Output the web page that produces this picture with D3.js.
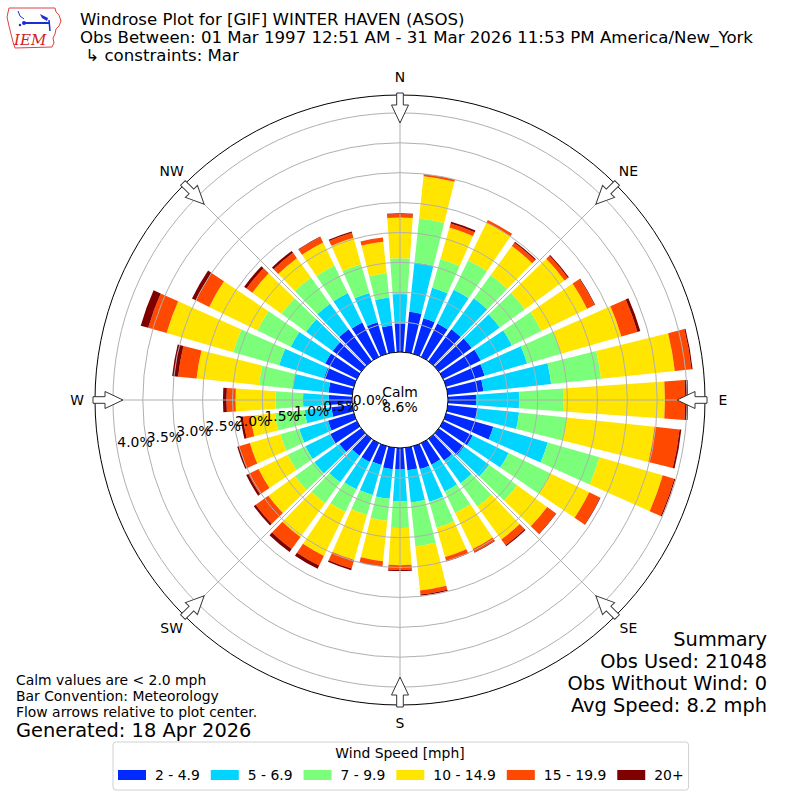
<!DOCTYPE html>
<html>
<head>
<meta charset="utf-8">
<script src="https://cdn.jsdelivr.net/npm/d3@7"></script>
<style>
    body { margin: 0; background: #fff; }
    text { font-family: "DejaVu Sans", sans-serif; fill: #000; }
</style>
</head>
<body>
<svg id="chart" width="800" height="800"></svg>
<script>
// wind direction bins (degrees, meteorological)
var directions = [0, 10, 20, 30, 40, 50, 60, 70, 80, 90, 100, 110, 120, 130, 140, 150, 160, 170,
    180, 190, 200, 210, 220, 230, 240, 250, 260, 270, 280, 290, 300, 310, 320, 330, 340, 350];

// speed bins
var speedBins = ['2 - 4.9', '5 - 6.9', '7 - 9.9', '10 - 14.9', '15 - 19.9', '20+'];
var binColors = ['#002aff', '#00d4ff', '#7bff7b', '#ffe500', '#ff4800', '#800000'];

// frequency (%) per direction for each speed bin
var speed2to5 = [0.47, 0.68, 0.62, 0.62, 0.66, 0.68, 0.70, 0.67, 0.60, 0.47, 0.50, 0.82, 0.55, 0.52, 0.45, 0.40, 0.40, 0.38,
    0.36, 0.36, 0.33, 0.35, 0.35, 0.45, 0.50, 0.45, 0.35, 0.39, 0.40, 0.52, 0.59, 0.59, 0.66, 0.64, 0.55, 0.45];
var speed5to7 = [0.50, 0.83, 0.53, 0.63, 0.64, 0.58, 0.58, 0.74, 1.14, 0.72, 0.70, 0.95, 0.67, 0.52, 0.47, 0.50, 0.57, 0.54,
    0.53, 0.50, 0.52, 0.51, 0.55, 0.52, 0.46, 0.50, 0.45, 0.43, 0.60, 0.78, 0.64, 0.55, 0.53, 0.55, 0.51, 0.47];
var speed7to10 = [0.60, 0.74, 0.50, 0.55, 0.48, 0.52, 0.55, 0.59, 0.84, 0.74, 0.80, 0.90, 0.78, 0.58, 0.48, 0.40, 0.45, 0.74,
    0.45, 0.37, 0.35, 0.42, 0.43, 0.40, 0.33, 0.33, 0.50, 0.46, 0.57, 0.80, 0.62, 0.51, 0.54, 0.51, 0.50, 0.41];
var speed10to15 = [0.68, 0.71, 0.55, 0.70, 0.60, 0.82, 0.85, 1.05, 1.24, 1.70, 1.48, 1.10, 0.72, 0.62, 0.68, 0.67, 0.51, 0.74,
    0.62, 0.68, 0.78, 0.82, 0.70, 0.55, 0.54, 0.53, 0.41, 0.67, 1.05, 1.16, 0.90, 0.60, 0.40, 0.43, 0.46, 0.53];
var speed15to20 = [0.06, 0.04, 0.07, 0.05, 0.07, 0.07, 0.14, 0.28, 0.28, 0.34, 0.42, 0.20, 0.20, 0.18, 0.12, 0.06, 0.07, 0.07,
    0.08, 0.08, 0.15, 0.18, 0.25, 0.26, 0.19, 0.19, 0.13, 0.15, 0.31, 0.32, 0.25, 0.12, 0.11, 0.10, 0.09, 0.07];
var speed20plus = [0.01, 0.00, 0.03, 0.00, 0.02, 0.02, 0.01, 0.05, 0.02, 0.05, 0.03, 0.02, 0.01, 0.01, 0.02, 0.01, 0.01, 0.02,
    0.02, 0.01, 0.03, 0.06, 0.06, 0.04, 0.04, 0.03, 0.04, 0.06, 0.10, 0.13, 0.07, 0.05, 0.04, 0.01, 0.02, 0.00];

var radialTicks = [0, 0.5, 1.0, 1.5, 2.0, 2.5, 3.0, 3.5, 4.0];
var compassLabels = ['N', 'NE', 'E', 'SE', 'S', 'SW', 'W', 'NW'];
var compassAngles = [0, 45, 90, 135, 180, 225, 270, 315];

var calmPct = '8.6%';
var titleLines = [
    'Windrose Plot for [GIF] WINTER HAVEN (ASOS)',
    'Obs Between: 01 Mar 1997 12:51 AM - 31 Mar 2026 11:53 PM America/New_York',
    ' \u21B3 constraints: Mar'
];
var summaryLines = ['Summary', 'Obs Used: 21048', 'Obs Without Wind: 0', 'Avg Speed: 8.2 mph'];
var noteLines = ['Calm values are < 2.0 mph', 'Bar Convention: Meteorology', 'Flow arrows relative to plot center.'];
var generatedText = 'Generated: 18 Apr 2026';

// table for the stack layout
var seriesList = [speed2to5, speed5to7, speed7to10, speed10to15, speed15to20, speed20plus];
var rows = directions.map(function (dir, i) {
    var row = { dir: dir };
    speedBins.forEach(function (b, j) { row[b] = seriesList[j][i]; });
    return row;
});

var svg = d3.select('#chart');
var cx = 400, cy = 400;
var rad = Math.PI / 180;

// radial scale, calm circle sits at 0%
var rScale = d3.scaleLinear().domain([0, 4.3]).range([48, 305]);
var barHalf = 4; // degrees

var stacked = d3.stack().keys(speedBins)(rows);

var plot = svg.append('g').attr('transform', 'translate(' + cx + ',' + cy + ')');

var arc = d3.arc()
    .innerRadius(function (d) { return rScale(d[0]); })
    .outerRadius(function (d) { return rScale(d[1]); })
    .startAngle(function (d) { return (d.data.dir - barHalf) * rad; })
    .endAngle(function (d) { return (d.data.dir + barHalf) * rad; });

plot.selectAll('g.layer')
    .data(stacked)
    .enter().append('g')
    .attr('class', 'layer')
    .attr('fill', function (d, i) { return binColors[i]; })
    .selectAll('path')
    .data(function (d) { return d; })
    .enter().append('path')
    .attr('d', arc);

// grid rings and spokes on top of bars
plot.selectAll('circle.ring')
    .data(radialTicks.slice(1))
    .enter().append('circle')
    .attr('r', function (d) { return rScale(d); })
    .attr('fill', 'none')
    .attr('stroke', '#b0b0b0')
    .attr('stroke-width', 1);

plot.selectAll('line.spoke')
    .data(compassAngles)
    .enter().append('line')
    .attr('x1', function (d) { return rScale(0) * Math.sin(d * rad); })
    .attr('y1', function (d) { return -rScale(0) * Math.cos(d * rad); })
    .attr('x2', function (d) { return rScale(4.3) * Math.sin(d * rad); })
    .attr('y2', function (d) { return -rScale(4.3) * Math.cos(d * rad); })
    .attr('stroke', '#b0b0b0')
    .attr('stroke-width', 1);

// calm circle and frame
plot.append('circle').attr('r', rScale(0)).attr('fill', '#fff').attr('stroke', '#000').attr('stroke-width', 1);
plot.append('circle').attr('r', rScale(4.3)).attr('fill', 'none').attr('stroke', '#000').attr('stroke-width', 1);

// flow arrows pointing toward center
var rOut = rScale(4.3);
plot.selectAll('path.arrow')
    .data(compassAngles)
    .enter().append('path')
    .attr('d', 'M-3.3,' + (-rOut - 2) + 'L3.3,' + (-rOut - 2) + 'L3.3,' + (-rOut + 10) +
        'L8.5,' + (-rOut + 10) + 'L0,' + (-rOut + 28) + 'L-8.5,' + (-rOut + 10) +
        'L-3.3,' + (-rOut + 10) + 'Z')
    .attr('transform', function (d) { return 'rotate(' + d + ')'; })
    .attr('fill', '#fff')
    .attr('stroke', '#333')
    .attr('stroke-width', 1);

// compass labels
plot.selectAll('text.compass')
    .data(compassLabels)
    .enter().append('text')
    .attr('x', function (d, i) { return 323 * Math.sin(compassAngles[i] * rad); })
    .attr('y', function (d, i) { return -323 * Math.cos(compassAngles[i] * rad); })
    .attr('dy', '0.35em')
    .attr('text-anchor', 'middle')
    .style('font-size', '13.9px')
    .text(function (d) { return d; });

// radial tick labels
var labelAng = 190 * rad;
plot.selectAll('text.rlabel')
    .data(radialTicks)
    .enter().append('text')
    .attr('x', function (d) { return rScale(d) * Math.cos(labelAng); })
    .attr('y', function (d) { return -rScale(d) * Math.sin(labelAng) - 3; })
    .style('font-size', '13.9px')
    .text(function (d) { return d.toFixed(1) + '%'; });

// calm text
plot.append('text').attr('y', -3).attr('text-anchor', 'middle').style('font-size', '13.9px').text('Calm');
plot.append('text').attr('y', 12).attr('text-anchor', 'middle').style('font-size', '13.9px').text(calmPct);

// title
svg.selectAll('text.title')
    .data(titleLines)
    .enter().append('text')
    .attr('x', 80)
    .attr('y', function (d, i) { return 25 + i * 18; })
    .style('font-size', '16.6px')
    .style('white-space', 'pre')
    .text(function (d) { return d; });

// summary block
svg.selectAll('text.summary')
    .data(summaryLines)
    .enter().append('text')
    .attr('x', 767)
    .attr('y', function (d, i) { return 646 + i * 22; })
    .attr('text-anchor', 'end')
    .style('font-size', '19.4px')
    .text(function (d) { return d; });

// notes
svg.selectAll('text.note')
    .data(noteLines)
    .enter().append('text')
    .attr('x', 16)
    .attr('y', function (d, i) { return 685 + i * 16; })
    .style('font-size', '13.9px')
    .text(function (d) { return d; });
svg.append('text').attr('x', 16).attr('y', 737).style('font-size', '19.4px').text(generatedText);

// legend
var legend = svg.append('g');
var legendBox = legend.append('rect')
    .attr('x', 113).attr('y', 742).attr('height', 48).attr('rx', 3)
    .attr('fill', '#fff').attr('stroke', '#d0d0d0');
legend.append('text').attr('x', 400).attr('y', 758).attr('text-anchor', 'middle')
    .style('font-size', '13.9px').text('Wind Speed [mph]');
var lx = 118;
speedBins.forEach(function (b, i) {
    legend.append('rect').attr('x', lx).attr('y', 770).attr('width', 28).attr('height', 10).attr('fill', binColors[i]);
    var t = legend.append('text').attr('x', lx + 37).attr('y', 780).style('font-size', '13.9px').text(b);
    lx = lx + 37 + t.node().getComputedTextLength() + 11;
});
legendBox.attr('width', lx - 113 - 6);

// IEM logo
var logo = svg.append('g');
logo.append('path')
    .attr('d', 'M9,8 L55,8 L56,12 L59,15 L61,21 L59,26 L56,29 L55,34 L53,38 L54,43 L52,47 L15,48 L13,42 L11,34 L9,26 L7,17 Z')
    .attr('fill', 'none').attr('stroke', '#e04040').attr('stroke-width', 1);
logo.append('line').attr('x1', 24).attr('y1', 23).attr('x2', 50).attr('y2', 23).attr('stroke', '#1a2fd0').attr('stroke-width', 2);
logo.append('circle').attr('cx', 24).attr('cy', 23).attr('r', 2).attr('fill', '#1a2fd0');
logo.append('path').attr('d', 'M18,11 L20,16 L24,19').attr('fill', 'none').attr('stroke', '#1a2fd0').attr('stroke-width', 1);
logo.append('path').attr('d', 'M40,14 L48,18 L47,21 L42,18 Z').attr('fill', '#1a2fd0');
logo.append('path').attr('d', 'M49,20 L50,31').attr('stroke', '#1a2fd0').attr('stroke-width', 1.5);
logo.append('circle').attr('cx', 20).attr('cy', 25).attr('r', 1.2).attr('fill', '#1a2fd0');
logo.append('text').attr('x', 14).attr('y', 45)
    .style('font-family', '"DejaVu Serif", serif').style('font-style', 'italic')
    .style('font-size', '15px').style('fill', '#d42020').text('IEM');
</script>
</body>
</html>
